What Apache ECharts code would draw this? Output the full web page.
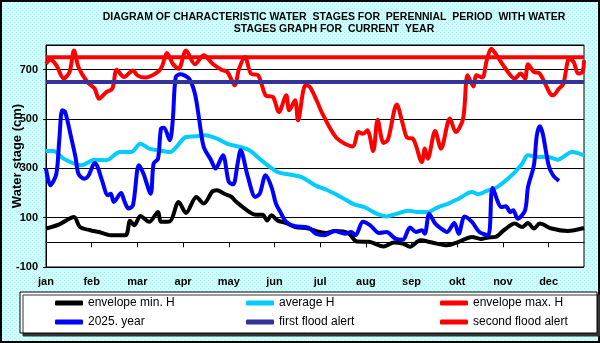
<!DOCTYPE html>
<html>
<head>
<meta charset="utf-8">
<script src="https://cdn.jsdelivr.net/npm/echarts@6/dist/echarts.min.js"></script>
<style>
  html, body { margin: 0; padding: 0; }
  #chart { width: 600px; height: 343px; }
</style>
</head>
<body>
<div id="chart"></div>
<script>
// day of year, water stage in cm
const months = ['jan', 'feb', 'mar', 'apr', 'may', 'jun', 'jul', 'aug', 'sep', 'okt', 'nov', 'dec']

const envelopeMin = [
  [0, 56], [9, 73], [19, 103], [23, 62], [30, 49], [36, 42], [44, 29], [54, 29], [57, 87], [60, 69],
  [64, 107], [70, 83], [76, 123], [78, 83], [84, 85], [90, 164], [95, 119], [102, 184], [107, 157],
  [113, 207], [116, 211], [121, 197], [126, 184], [128, 170], [132, 150], [138, 123], [142, 112],
  [147, 112], [150, 89], [153, 110], [157, 89], [163, 78], [169, 62], [178, 56], [184, 44], [190, 38],
  [196, 46], [205, 38], [211, 3], [219, 2], [229, -17], [236, -1], [242, -5], [247, -18], [254, 8],
  [262, -1], [272, -12], [280, 2], [289, 22], [295, 14], [300, 20], [305, 22], [311, 51], [318, 76],
  [323, 62], [327, 78], [331, 56], [335, 76], [343, 56], [354, 46], [365, 58]
]

const averageH = [
  [0, 370], [5, 370], [12, 339], [24, 312], [33, 335], [41, 333], [50, 366], [58, 366], [64, 400],
  [70, 380], [76, 373], [84, 366], [95, 427], [102, 430], [108, 434], [116, 420], [124, 397], [130, 389],
  [138, 373], [146, 333], [157, 285], [164, 276], [173, 265], [183, 230], [191, 211], [200, 184],
  [209, 154], [216, 143], [225, 114], [231, 105], [238, 116], [246, 128], [252, 123], [259, 123],
  [266, 143], [273, 157], [280, 177], [289, 204], [293, 195], [300, 211], [306, 224], [316, 272],
  [323, 319], [327, 353], [334, 346], [341, 346], [347, 335], [357, 366], [365, 353]
]

const envelopeMax = [
  [0, 724], [3, 740], [7, 718], [12, 664], [16, 691], [19, 778], [22, 711], [28, 650], [33, 623],
  [36, 582], [41, 609], [45, 623], [48, 700], [53, 670], [59, 697], [62, 677], [67, 668], [76, 691],
  [79, 718], [82, 768], [86, 724], [90, 704], [95, 778], [101, 722], [107, 758], [113, 724], [119, 700],
  [123, 691], [128, 637], [131, 704], [135, 751], [139, 684], [144, 677], [149, 596], [154, 589],
  [158, 528], [163, 596], [165, 535], [169, 576], [171, 495], [176, 637], [179, 630], [184, 570],
  [187, 528], [197, 424], [208, 389], [212, 447], [215, 440], [218, 454], [222, 370], [225, 497],
  [229, 403], [232, 416], [238, 559], [242, 481], [245, 424], [249, 420], [255, 326], [257, 380],
  [259, 339], [264, 451], [268, 380], [274, 502], [278, 447], [283, 502], [286, 677], [290, 632],
  [292, 677], [296, 668], [299, 738], [302, 785], [305, 765], [311, 711], [318, 664], [322, 684],
  [325, 664], [327, 722], [331, 691], [335, 684], [342, 603], [344, 596], [348, 623], [351, 643],
  [355, 745], [358, 731], [361, 684], [364, 691], [365, 738]
]

const year2025 = [
  [0, 299], [3, 231], [7, 278], [9, 414], [11, 535], [13, 528], [17, 427], [20, 346], [22, 278],
  [26, 258], [29, 272], [33, 322], [35, 306], [38, 251], [42, 191], [44, 197], [46, 164], [51, 200],
  [53, 170], [56, 137], [59, 150], [63, 312], [66, 280], [71, 197], [73, 319], [76, 339], [78, 461],
  [80, 465], [84, 414], [86, 495], [88, 670], [91, 681], [97, 664], [101, 603], [104, 495], [107, 387],
  [112, 333], [115, 299], [120, 353], [124, 245], [127, 235], [130, 319], [132, 373], [137, 265],
  [142, 184], [145, 197], [149, 272], [153, 224], [156, 157], [159, 123], [163, 83], [169, 65],
  [178, 60], [183, 35], [189, 29], [196, 46], [203, 35], [207, 42], [210, 29], [215, 83], [220, 69],
  [226, 38], [231, 42], [237, 15], [242, 10], [247, 60], [251, 42], [255, 49], [257, 35], [260, 116],
  [264, 76], [268, 56], [272, 42], [277, 78], [280, 35], [284, 105], [289, 83], [294, 42], [300, 29],
  [303, 220], [309, 143], [312, 146], [315, 123], [317, 130], [320, 96], [325, 130], [327, 224],
  [331, 312], [333, 434], [335, 471], [337, 441], [341, 312], [344, 272], [348, 249]
]

const firstFloodAlert = 650
const secondFloodAlert = 750

// dotted cyan background like the original
const pat = document.createElement('canvas')
pat.width = 4
pat.height = 4
const pc = pat.getContext('2d')
pc.fillStyle = '#ccffff'
pc.fillRect(0, 0, 4, 4)
pc.fillStyle = '#b4ecec'
pc.fillRect(0, 0, 1, 1)
pc.fillRect(2, 2, 1, 1)

const flat = (v) => [[0, v], [365, v]]
const lineSeries = (name, data, color) => ({
  name: name,
  type: 'line',
  data: data,
  smooth: 0.3,
  showSymbol: false,
  lineStyle: { color: color, width: 4 },
  itemStyle: { color: color }
})

const legendBase = {
  orient: 'vertical',
  top: 297,
  padding: 0,
  itemGap: 7,
  itemWidth: 28,
  itemHeight: 5,
  itemTextGap: 1,
  icon: 'roundRect',
  textStyle: { fontSize: 12, color: '#000', fontFamily: 'Liberation Sans' }
}

const chart = echarts.init(document.getElementById('chart'))
chart.setOption({
  animation: false,
  backgroundColor: { image: pat, repeat: 'repeat' },
  title: {
    text: 'DIAGRAM OF CHARACTERISTIC WATER  STAGES FOR  PERENNIAL  PERIOD  WITH WATER\nSTAGES GRAPH FOR  CURRENT  YEAR',
    left: 334,
    top: 11,
    padding: 0,
    textAlign: 'center',
    textStyle: { fontSize: 10.5, fontWeight: 'bold', color: '#000', lineHeight: 12, fontFamily: 'Liberation Sans' }
  },
  graphic: [
    {
      type: 'rect', z: 1,
      shape: { x: 1, y: 1, width: 598, height: 341 },
      style: { fill: 'none', stroke: '#000', lineWidth: 2 }
    },
    {
      type: 'rect', z: 1,
      shape: { x: 20, y: 292, width: 577, height: 41 },
      style: { fill: '#fff', stroke: '#000', lineWidth: 1, shadowColor: '#333', shadowOffsetX: 3, shadowOffsetY: 3, shadowBlur: 0 }
    }
  ],
  legend: [
    Object.assign({ left: 55, data: ['envelope min. H', '2025. year'] }, legendBase),
    Object.assign({ left: 246, data: ['average H', 'first flood alert'] }, legendBase),
    Object.assign({ left: 440, data: ['envelope max. H', 'second flood alert'] }, legendBase)
  ],
  grid: {
    left: 46,
    right: 16,
    top: 45,
    bottom: 76,
    outerBoundsMode: 'none',
    containLabel: false,
    show: true,
    backgroundColor: '#fff',
    borderColor: '#000',
    borderWidth: 1
  },
  xAxis: {
    type: 'value',
    min: 0,
    max: 365,
    interval: 31,
    axisLine: { lineStyle: { color: '#000' } },
    axisTick: { show: true, length: 5, lineStyle: { color: '#000' } },
    splitLine: { show: false },
    axisLabel: {
      showMaxLabel: false,
      margin: 9,
      color: '#000',
      fontSize: 11,
      fontWeight: 'bold',
      fontFamily: 'Liberation Sans',
      formatter: (v) => months[Math.round(v / 31)] || ''
    }
  },
  yAxis: {
    type: 'value',
    min: -100,
    max: 800,
    interval: 200,
    name: 'Water stage (cm)',
    nameLocation: 'middle',
    nameGap: 22,
    nameMoveOverlap: false,
    nameTextStyle: { fontSize: 13, fontWeight: 'bold', color: '#000', fontFamily: 'Liberation Sans' },
    axisLine: { show: true, lineStyle: { color: '#000' } },
    axisTick: { show: true, length: 3, lineStyle: { color: '#000' } },
    splitLine: { lineStyle: { color: '#000', width: 1 } },
    axisLabel: {
      showMaxLabel: false,
      margin: 8,
      color: '#000',
      fontSize: 11,
      fontWeight: 'bold',
      fontFamily: 'Liberation Sans'
    }
  },
  series: [
    lineSeries('envelope min. H', envelopeMin, '#000000'),
    lineSeries('average H', averageH, '#00ccff'),
    lineSeries('envelope max. H', envelopeMax, '#ff0000'),
    lineSeries('2025. year', year2025, '#0000ff'),
    lineSeries('first flood alert', flat(firstFloodAlert), '#333399'),
    lineSeries('second flood alert', flat(secondFloodAlert), '#ff0000')
  ]
})
</script>
</body>
</html>
